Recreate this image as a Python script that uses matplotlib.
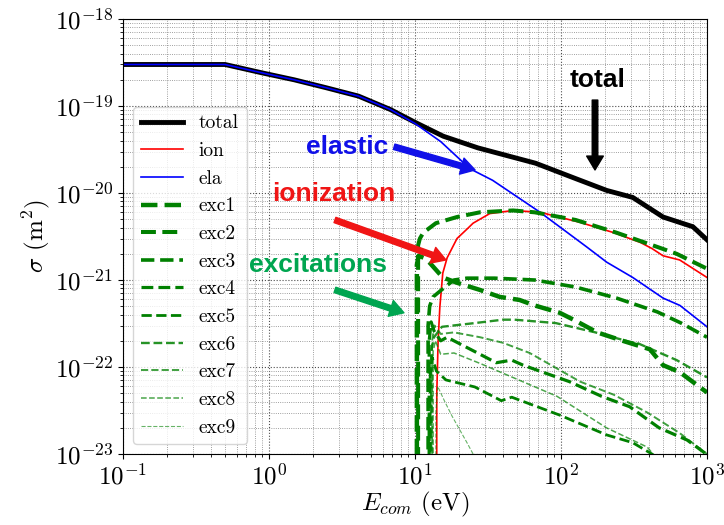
import numpy as np
import matplotlib
matplotlib.use("Agg")
import matplotlib.pyplot as plt

plt.rcParams['font.family'] = 'serif'
plt.rcParams['font.serif'] = ['cmr10']
plt.rcParams['mathtext.fontset'] = 'cm'
plt.rcParams['axes.formatter.use_mathtext'] = True

# energies (eV) and cross sections (m^2)
E_total = [0.1, 0.5, 0.9, 1.49, 2.47, 4.1, 6.8, 10, 15.6, 27, 67, 128, 206, 310, 500, 800, 1000]
s_total = [3.0e-19, 3.0e-19, 2.4e-19, 2.0e-19, 1.62e-19, 1.3e-19, 9.1e-20, 6.5e-20, 4.5e-20,
           3.3e-20, 2.2e-20, 1.45e-20, 1.07e-20, 8.9e-21, 5.3e-21, 4.1e-21, 2.9e-21]

E_ion = [14.0, 14.1, 14.4, 14.8, 15.5, 16.6, 19.4, 22.9, 25, 32.5, 47, 72, 135, 230, 350, 420, 500, 650, 1000]
s_ion = [1e-30, 5e-23, 2.0e-22, 4.9e-22, 1.2e-21, 1.8e-21, 3.0e-21, 3.9e-21, 4.5e-21, 5.8e-21,
         6.3e-21, 6.0e-21, 4.6e-21, 3.5e-21, 2.7e-21, 2.3e-21, 1.9e-21, 1.7e-21, 1.07e-21]

E_ela = [0.1, 0.5, 0.9, 1.49, 2.47, 4.1, 6.8, 10, 15, 23.8, 34, 72, 150, 206, 310, 500, 653, 1000]
s_ela = [3.0e-19, 3.0e-19, 2.4e-19, 2.0e-19, 1.62e-19, 1.3e-19, 9.1e-20, 6.3e-20, 3.9e-20,
         1.9e-20, 1.4e-20, 6.0e-21, 2.4e-21, 1.6e-21, 1.07e-21, 6.2e-22, 5.1e-22, 2.9e-22]

E_exc = [
    [10.3, 10.3, 10.6, 11.5, 12.6, 15.5, 19.4, 27.8, 38, 52, 66, 98, 126, 177, 265, 406, 500, 653, 1000],
    [10.5, 10.5, 10.8, 11.4, 13.9, 19.4, 27.8, 47, 66, 126, 240, 457, 620, 1000],
    [12.3, 12.3, 12.6, 13.3, 16.6, 18.5, 22.7, 35, 66, 126, 240, 457, 665, 1000],
    [12.5, 12.5, 12.9, 13.5, 15, 16.6, 18.5, 27.9, 36, 46, 55, 114, 190, 295, 470, 730, 950, 1000],
    [12.7, 12.7, 13.1, 14, 16.3, 25.7, 39, 46, 98, 205, 310, 420, 470],
    [12.9, 12.9, 13.5, 14.8, 15.3, 25.7, 40, 48, 92, 172, 295, 330, 620, 1000],
    [13.1, 13.1, 13.6, 15, 18.5, 27.9, 40, 61, 135, 230, 390, 650, 1000],
    [13.3, 13.3, 13.8, 15, 18.5, 27.9, 94, 205, 390, 450],
    [13.9, 13.9, 14.3, 16, 18, 22.7, 25, 27],
]
s_exc = [
    [1e-30, 1.5e-21, 1.9e-21, 1.8e-21, 1.58e-21, 1.07e-21, 9.3e-22, 7.7e-22, 6.4e-22, 5.9e-22,
     5.1e-22, 4.2e-22, 3.4e-22, 2.5e-22, 2.0e-22, 1.6e-22, 1.05e-22, 8.7e-23, 5.1e-23],
    [1e-30, 2.5e-21, 3.0e-21, 3.5e-21, 4.5e-21, 5.3e-21, 6.0e-21, 6.3e-21, 6.0e-21, 4.9e-21,
     3.5e-21, 2.4e-21, 2.0e-21, 1.35e-21],
    [1e-30, 3e-22, 5e-22, 6.4e-22, 8.7e-22, 1.0e-21, 1.05e-21, 1.05e-21, 1.0e-21, 8.3e-22,
     6.2e-22, 4.3e-22, 3.2e-22, 2.2e-22],
    [1e-30, 2e-22, 3.3e-22, 2.6e-22, 2.0e-22, 2.2e-22, 2.0e-22, 1.4e-22, 1.12e-22, 1.2e-22,
     1.05e-22, 6.8e-23, 4.6e-23, 3.5e-23, 2.0e-23, 1.45e-23, 1.05e-23, 9.8e-24],
    [1e-30, 8e-23, 1.3e-22, 9e-23, 7.1e-23, 5.9e-23, 4.1e-23, 4.5e-23, 2.8e-23, 1.66e-23,
     1.35e-23, 1.0e-23, 8e-24],
    [1e-30, 1.5e-22, 2.2e-22, 2.7e-22, 2.9e-22, 3.2e-22, 3.5e-22, 3.5e-22, 3.2e-22, 2.5e-22,
     1.95e-22, 1.9e-22, 1.2e-22, 7.6e-23],
    [1e-30, 2e-22, 3e-22, 2.4e-22, 2.5e-22, 2.2e-22, 1.9e-22, 1.45e-22, 6.8e-23, 4.8e-23,
     3.0e-23, 1.74e-23, 1.0e-23],
    [1e-30, 1.5e-22, 2e-22, 1.4e-22, 1.45e-22, 1.1e-22, 4.6e-23, 2.0e-23, 1.2e-23, 9e-24],
    [1e-30, 3e-23, 6e-23, 4e-23, 2.7e-23, 1.35e-23, 1.0e-23, 8e-24],
]
exc_labels = ['exc%d' % (i + 1) for i in range(9)]
exc_lw = [3.2, 2.9, 2.6, 2.3, 2.0, 1.7, 1.4, 1.1, 0.8]
exc_alpha = [1, 1, 1, 1, 1, 0.85, 0.75, 0.7, 0.6]

fig = plt.figure(figsize=(7.24, 5.25), dpi=100)
ax = fig.add_axes([0.1699, 0.1352, 0.8066, 0.8286])

ax.plot(E_total, s_total, color='k', lw=3.5, label='total')
ax.plot(E_ion, s_ion, color='r', lw=1.2, label='ion')
ax.plot(E_ela, s_ela, color='b', lw=1.2, label='ela')
for E, s, lab, lw, a in zip(E_exc, s_exc, exc_labels, exc_lw, exc_alpha):
    ax.plot(E, s, color='green', ls='--', lw=lw, alpha=a, label=lab)

ax.set_xscale('log')
ax.set_yscale('log')
ax.set_xlim(0.1, 1000)
ax.set_ylim(1e-23, 1e-18)
ax.grid(which='major', ls=':', color='0.3', lw=0.8)
ax.grid(which='minor', ls=':', color='0.5', lw=0.6)
ax.tick_params(labelsize=18)
ax.set_xlabel(r'$E_{com}$ (eV)', fontsize=18, labelpad=0)
ax.set_ylabel(r'$\sigma$ (m$^2$)', fontsize=18, labelpad=2)
ax.legend(loc='lower left', fontsize=14, handlelength=2.2)

# annotations
bold = dict(family=['Liberation Sans', 'DejaVu Sans'], weight='bold', fontsize=19,
            ha='center', va='center', zorder=6)
arrow = dict(width=4, headwidth=12, headlength=10, shrink=0)

ax.text(177, 2.0e-19, 'total', color='k', **bold)
ax.annotate('', xy=(171, 1.84e-20), xytext=(171, 1.17e-19),
            arrowprops=dict(facecolor='k', edgecolor='k', **arrow))

ax.text(3.42, 3.4e-20, 'elastic', color='#1010e8', **bold)
ax.annotate('', xy=(25.8, 1.84e-20), xytext=(7.2, 3.4e-20),
            arrowprops=dict(facecolor='#1010e8', edgecolor='#1010e8', **arrow))

ax.text(2.79, 9.8e-21, 'ionization', color='#f01515', **bold)
ax.annotate('', xy=(16.3, 1.7e-21), xytext=(2.83, 4.9e-21),
            arrowprops=dict(facecolor='#f01515', edgecolor='#f01515', **arrow))

ax.text(2.17, 1.48e-21, 'excitations', color='#00a550', **bold)
ax.annotate('', xy=(8.4, 4.2e-22), xytext=(2.83, 7.7e-22),
            arrowprops=dict(facecolor='#00a550', edgecolor='#00a550', **arrow))

fig.savefig('out.png', dpi=100)
